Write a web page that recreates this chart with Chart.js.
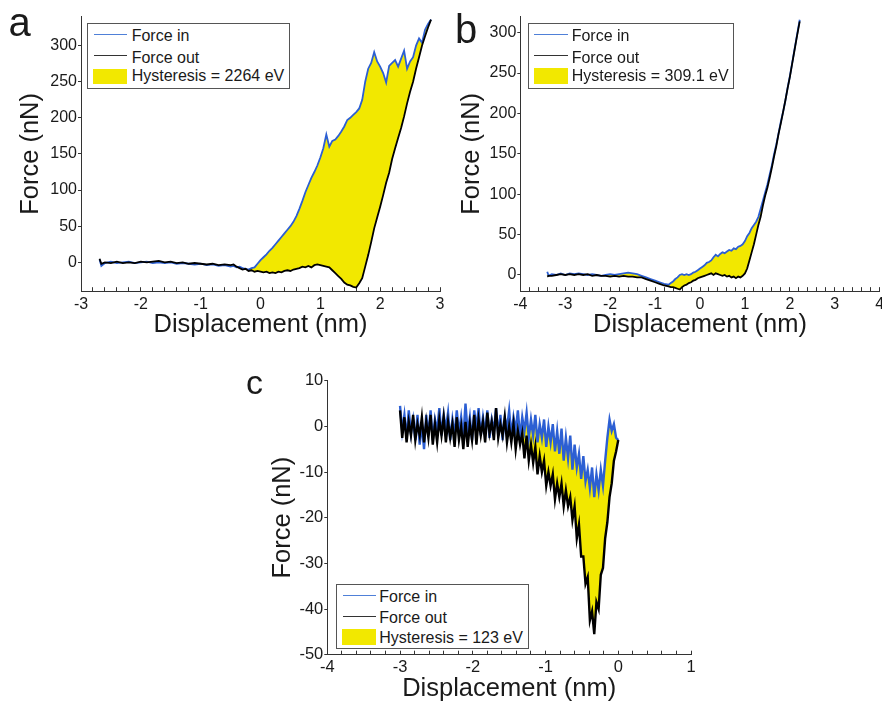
<!DOCTYPE html>
<html>
<head>
<meta charset="utf-8">
<title>Force curves with hysteresis</title>
<script src="https://cdn.jsdelivr.net/npm/chart.js@4.4.1/dist/chart.umd.min.js"></script>
<style>
  html, body { margin: 0; padding: 0; background: #fff; overflow: hidden; }
  #fig { position: relative; width: 882px; height: 704px; overflow: hidden;
         font-family: 'Liberation Sans', Arial, sans-serif; color: #1a1a1a; }
  .panel { position: absolute; }
  .panel canvas { display: block; }
  .tag { position: absolute; white-space: nowrap; }
  .legend { position: absolute; box-sizing: border-box; border: 1px solid #555; background: #fff; }
  .legend .sw { position: absolute; }
  .legend .ln { height: 1px; }
  .legend .lbl { position: absolute; font-size: 16px; line-height: 16px; white-space: nowrap; }
</style>
</head>
<body>
<div id="fig">
  <div class="panel" style="left:0;top:0"><canvas id="chart-a" width="470" height="340"></canvas></div>
  <div class="panel" style="left:441px;top:0"><canvas id="chart-b" width="460" height="340"></canvas></div>
  <div class="panel" style="left:240px;top:360px"><canvas id="chart-c" width="470" height="344"></canvas></div>

  <div class="tag" style="left:8.5px;top:2px;font-size:40px;line-height:40px">a</div>
  <div class="tag" style="left:455px;top:9px;font-size:40px;line-height:40px">b</div>
  <div class="tag" style="left:246px;top:365px;font-size:34px;line-height:34px">c</div>

  <div class="legend" style="left:87px;top:23px;width:203px;height:66px">
    <div class="sw ln" style="left:6px;top:10px;width:33px;background:#4f80d8"></div>
    <div class="sw ln" style="left:6px;top:31px;width:33px;background:#333"></div>
    <div class="sw" style="left:5px;top:45px;width:34px;height:15px;background:#f2e800"></div>
    <div class="lbl" style="left:43.7px;top:3.7px">Force in</div>
    <div class="lbl" style="left:43.7px;top:25.7px">Force out</div>
    <div class="lbl" style="left:43.7px;top:44.2px">Hysteresis = 2264 eV</div>
  </div>

  <div class="legend" style="left:528px;top:23px;width:206px;height:66px">
    <div class="sw ln" style="left:5px;top:10px;width:34px;background:#4f80d8"></div>
    <div class="sw ln" style="left:5px;top:31px;width:34px;background:#333"></div>
    <div class="sw" style="left:5px;top:44px;width:34px;height:16px;background:#f2e800"></div>
    <div class="lbl" style="left:42.7px;top:3.7px">Force in</div>
    <div class="lbl" style="left:42.7px;top:25.7px">Force out</div>
    <div class="lbl" style="left:42.7px;top:44.2px">Hysteresis = 309.1 eV</div>
  </div>

  <div class="legend" style="left:336px;top:584px;width:193px;height:65px">
    <div class="sw ln" style="left:6px;top:10px;width:33px;background:#4f80d8"></div>
    <div class="sw ln" style="left:6px;top:31px;width:33px;background:#333"></div>
    <div class="sw" style="left:5px;top:44px;width:34px;height:16px;background:#f2e800"></div>
    <div class="lbl" style="left:42.3px;top:4.2px">Force in</div>
    <div class="lbl" style="left:42.3px;top:25.2px">Force out</div>
    <div class="lbl" style="left:42.3px;top:44.7px">Hysteresis = 123 eV</div>
  </div>
</div>

<script>
// ---- panel a: displacement (nm) and force (nN) ----
const dispA = [-2.69, -2.66, -2.6, -2.5, -2.4, -2.3, -2.2, -2.1, -2.0, -1.9, -1.8, -1.7,
  -1.6, -1.5, -1.4, -1.3, -1.2, -1.1, -1.0, -0.9, -0.8, -0.7, -0.6, -0.5,
  -0.45, -0.4, -0.35, -0.3, -0.25, -0.2, -0.15, -0.1, -0.05,
  0, 0.05, 0.1, 0.15, 0.2, 0.25, 0.3, 0.35, 0.4, 0.45, 0.5, 0.55, 0.6, 0.65, 0.7, 0.75, 0.8, 0.85, 0.9, 0.95,
  1.0, 1.05, 1.1, 1.15, 1.2, 1.25, 1.3, 1.35, 1.4, 1.45, 1.5, 1.55, 1.6, 1.65, 1.7, 1.75, 1.8, 1.85, 1.9, 1.95,
  2.0, 2.05, 2.1, 2.15, 2.2, 2.25, 2.3, 2.35, 2.4, 2.45, 2.5, 2.55, 2.6, 2.65, 2.7, 2.75, 2.8, 2.85];
const forceInA = [4, -5, -1, 1, -1, 0, 1, -1, 0, 1, -1, 0, -1, 0, -2, -1, -2, -3, -2, -4, -3, -5, -4, -6,
  -5, -7, -6, -8, -9, -10, -8, -7, -2,
  3, 7, 11, 16, 20, 25, 30, 35, 40, 45, 50, 56, 64, 74, 85, 97, 107, 117, 125, 134,
  145, 158, 177, 160, 168, 170, 175, 181, 188, 197, 200, 204, 208, 213, 225, 250, 268, 276, 291, 278,
  271, 262, 249, 272, 276, 280, 271, 282, 293, 268, 278, 284, 300, 310, 304, 322, 330, 336];
const forceOutA = [5, -2, 0, -1, 1, -1, 0, -1, 1, 0, 1, 2, 0, 1, -1, 0, -2, -1, -2, -3, -2, -4, -3, -4,
  -3, -6, -8, -10, -9, -12, -11, -13, -12,
  -13, -14, -13, -15, -14, -15, -13, -14, -12, -11, -12, -10, -9, -8, -6, -7, -5, -7, -4, -3,
  -4, -5, -6, -7, -11, -15, -19, -23, -28, -31, -32, -34, -35, -29, -22, -6, 10, 28, 47, 62,
  77, 93, 110, 124, 143, 158, 172, 186, 202, 220, 236, 250, 268, 284, 300, 313, 325, 336];

// ---- panel b ----
const dispB = [-3.4, -3.37, -3.3, -3.2, -3.1, -3.0, -2.9, -2.8, -2.7, -2.6, -2.5, -2.4, -2.3, -2.2, -2.1,
  -2.0, -1.9, -1.8, -1.7, -1.6, -1.5, -1.4, -1.3, -1.2, -1.1, -1.0, -0.9, -0.8, -0.7,
  -0.65, -0.6, -0.55, -0.5, -0.45, -0.4, -0.35, -0.3, -0.25, -0.2, -0.15, -0.1, -0.05,
  0, 0.05, 0.1, 0.15, 0.2, 0.25, 0.3, 0.35, 0.4, 0.45, 0.5, 0.55, 0.6, 0.65, 0.7, 0.75, 0.8, 0.85, 0.9, 0.95,
  1.0, 1.05, 1.1, 1.15, 1.2, 1.25, 1.3, 1.35, 1.4, 1.45, 1.5, 1.55, 1.6, 1.65, 1.7, 1.75, 1.8, 1.85, 1.9, 1.95,
  2.0, 2.05, 2.1, 2.15, 2.2, 2.22];
const forceInB = [4, -1, 1, 0, 2, 0, 2, 1, 2, 1, 0, 1, 0, -1, 0, 1, 0, 1, 2, 3, 2, 1, -1, -3, -5, -7, -9, -11, -12,
  -10, -8, -5, -3, 0, 1, 0, 1, 0, 1, 3, 4, 6,
  8, 10, 12, 15, 16, 18, 22, 25, 23, 26, 28, 27, 29, 31, 30, 33, 32, 35, 36, 38,
  42, 48, 52, 58, 62, 66, 72, 82, 92, 102, 112, 124, 136, 150, 162, 176, 190, 202, 216, 232,
  246, 262, 278, 294, 310, 316];
const forceOutB = [-2, -1, -1, 0, 1, 0, 1, 0, 1, 0, 1, -1, 0, -1, -1, -2, -1, -2, -1, -2, -2, -3, -3, -5, -7, -9, -11, -13, -14,
  -15, -15, -16, -17, -18, -15, -13, -12, -10, -9, -7, -6, -4,
  -3, -2, -1, 0, 1, 2, 0, 2, 1, 0, -1, 0, -2, -1, -3, -2, -4, -2, -3, -1,
  2, 8, 18, 28, 38, 50, 62, 72, 86, 98, 108, 120, 133, 147, 160, 175, 188, 202, 216, 231,
  245, 261, 277, 293, 308, 314];
// yellow sliver at the start of curve b (runs below the axis)
const fillLeadB = [{ x: -3.47, y: -25 }, { x: -3.42, y: -25 }];

// ---- panel c ----
const dispC = [-3.00, -2.97, -2.94, -2.91, -2.88, -2.85, -2.82, -2.79, -2.76, -2.73,
  -2.70, -2.67, -2.64, -2.61, -2.58, -2.55, -2.52, -2.49, -2.46, -2.43,
  -2.40, -2.37, -2.34, -2.31, -2.28, -2.25, -2.22, -2.19, -2.16, -2.13,
  -2.10, -2.07, -2.04, -2.01, -1.98, -1.95, -1.92, -1.89, -1.86, -1.83,
  -1.80, -1.77, -1.74, -1.71, -1.68, -1.65, -1.62, -1.59, -1.56, -1.53,
  -1.50, -1.47, -1.44, -1.41, -1.38, -1.35, -1.32, -1.29, -1.26, -1.23,
  -1.20, -1.17, -1.14, -1.11, -1.08, -1.05, -1.02, -0.99, -0.96, -0.93,
  -0.90, -0.87, -0.84, -0.81, -0.78, -0.75, -0.72, -0.69, -0.66, -0.63,
  -0.60, -0.57, -0.54, -0.51, -0.48, -0.45, -0.42, -0.39, -0.36, -0.33,
  -0.30, -0.27, -0.24, -0.21, -0.18, -0.15, -0.12, -0.09, -0.06, -0.03,
  0.00];
const forceInC = [4.5, -1, 2.5, -2.5, 3.5, -1.5, 1.5, -3, 2.5, -4,
  0.5, -5, 2.5, -2, 3.5, -3, 1.5, -1, 4, -2,
  2.5, -0.5, 3, -3, 1.5, -2, 3.5, -1.5, 2, -2.5,
  5, -1.5, 2, -3, 3.5, -0.5, 4, -2, 2, -1.5,
  3.5, -2.5, 1.5, -1, 4, -2, 2.5, -3, 2, -0.5,
  3.5, -2, 2, -1, 3.5, -2.5, 2, -1, 3, -2.5,
  1.5, -2, 2.5, -3.5, 0.5, -2.5, 1.5, -4.5, 0, -3.5,
  0.5, -5.5, -1, -6, -0.5, -7.5, -2.5, -7, -2, -9.5,
  -4, -9, -6, -11.5, -6.5, -12, -9.5, -13.5, -9, -15.5,
  -10.5, -14, -9.5, -13, -7.5, -2.5, 1.5, -1, 0.5, -2.5,
  -3];
const forceOutC = [3.5, -2.5, 2, -3.5, 1, -2, 2.5, -3, 0.5, -2,
  2, -3.5, 1, -2.5, 2.5, -4, 0.5, -3.5, 1.5, -2,
  2, -3.5, 1, -2.5, 0.5, -4.5, 2, -3, 0, -5,
  1, -4.5, 0.5, -3, 2.5, -4, 1.5, -2, 1, -3.5,
  3, -1.5, 1, -3, 4, -2.5, 0.5, -2, 2, -3.5,
  0, -3.5, 0.5, -5, -1, -4, -1.5, -7, -2, -7.5,
  -4, -8, -4.5, -10.5, -6.5, -10, -7.5, -13, -10, -13,
  -10.5, -16, -12.5, -15.5, -12.5, -17.5, -14, -17.5, -15.5, -20.5,
  -17.5, -24.5, -21.5, -28.5, -28.5, -34.5, -33, -42.5, -40.5, -45.5,
  -38.5, -40, -32.5, -31, -24.5, -21, -15.5, -12.5, -7.5, -5.5,
  -3];

const FONT = "'Liberation Sans', Arial, sans-serif";
const BLUE = '#2c5fd3';
const BLACK = '#000000';
const YELLOW = '#f2e800';
const AXIS = '#333333';
const TEXT = '#1a1a1a';

function toPoints(xs, ys) {
  return xs.map((x, i) => ({ x: x, y: ys[i] }));
}

function isWhole(v) {
  return Math.abs(v - Math.round(v)) < 1e-6;
}

/**
 * Build one force-displacement panel
 */
function makePanel(id, p) {
  const canvas = document.getElementById(id);
  const H = canvas.height;
  const inPts = toPoints(p.disp, p.fin);
  const outPts = toPoints(p.disp, p.fout);
  const fillPts = (p.fillLead || []).concat(outPts);

  return new Chart(canvas, {
    type: 'line',
    data: {
      datasets: [
        { label: 'Force in', data: inPts, borderColor: BLUE, borderWidth: p.lw,
          pointRadius: 0, tension: 0, fill: false, order: 2 },
        { label: 'Force out', data: outPts, borderColor: BLACK, borderWidth: p.lw,
          pointRadius: 0, tension: 0, fill: false, order: 1 },
        // hysteresis area: filled between this curve and dataset 0
        { label: 'Hysteresis', data: fillPts, borderColor: 'rgba(0,0,0,0)', borderWidth: 0,
          backgroundColor: YELLOW, pointRadius: 0, tension: 0, fill: 0, order: 3 }
      ]
    },
    options: {
      responsive: false,
      animation: false,
      events: [],
      layout: { padding: { top: p.top, right: p.padRight, left: 0, bottom: 0 } },
      plugins: {
        legend: { display: false },
        tooltip: { enabled: false }
      },
      scales: {
        x: {
          type: 'linear',
          min: p.xmin,
          max: p.xmax,
          afterFit: (s) => { s.height = H - p.bottom; },
          border: { display: true, color: AXIS, width: 1 },
          grid: { drawOnChartArea: false, drawTicks: true, tickLength: -4, color: AXIS },
          ticks: {
            stepSize: 0.2,
            autoSkip: false,
            maxTicksLimit: 1000,
            maxRotation: 0,
            minRotation: 0,
            includeBounds: false,
            padding: p.xtickPad,
            color: TEXT,
            font: { family: FONT, size: p.tickSize },
            callback: (v) => isWhole(v) ? String(Math.round(v)) : ''
          },
          title: {
            display: true,
            text: 'Displacement (nm)',
            color: TEXT,
            font: { family: FONT, size: 25.5, lineHeight: 1 },
            padding: { top: 0, bottom: p.xtitlePad }
          }
        },
        y: {
          type: 'linear',
          min: p.ymin,
          max: p.ymax,
          afterFit: (s) => { s.width = p.left; },
          border: { display: true, color: AXIS, width: 1 },
          grid: { drawOnChartArea: false, drawTicks: true, tickLength: 3, color: AXIS },
          ticks: {
            stepSize: p.ystep,
            includeBounds: false,
            padding: 1,
            color: TEXT,
            font: { family: FONT, size: p.tickSize }
          },
          title: {
            display: true,
            text: 'Force (nN)',
            color: TEXT,
            font: { family: FONT, size: 25.5, lineHeight: 1 },
            padding: { top: p.ytitlePad, bottom: 0 }
          }
        }
      }
    }
  });
}

makePanel('chart-a', {
  disp: dispA, fin: forceInA, fout: forceOutA,
  xmin: -3, xmax: 3, ymin: -40, ymax: 340, ystep: 50,
  left: 81, top: 16.7, bottom: 291.2, padRight: 30,
  lw: 1.8, tickSize: 16, xtickPad: 7.5, ytitlePad: 18.4, xtitlePad: 2
});

makePanel('chart-b', {
  disp: dispB, fin: forceInB, fout: forceOutB, fillLead: fillLeadB,
  xmin: -4, xmax: 4, ymin: -20, ymax: 320, ystep: 50,
  left: 79.3, top: 16.5, bottom: 291.15, padRight: 21.3,
  lw: 1.8, tickSize: 16, xtickPad: 7.5, ytitlePad: 18.4, xtitlePad: 2.7
});

makePanel('chart-c', {
  disp: dispC, fin: forceInC, fout: forceOutC,
  xmin: -4, xmax: 1, ymin: -50, ymax: 10, ystep: 10,
  left: 87.3, top: 20.7, bottom: 294.7, padRight: 19,
  lw: 2.4, tickSize: 16.5, xtickPad: 6.5, ytitlePad: 30.5, xtitlePad: 2.6
});
</script>
</body>
</html>
